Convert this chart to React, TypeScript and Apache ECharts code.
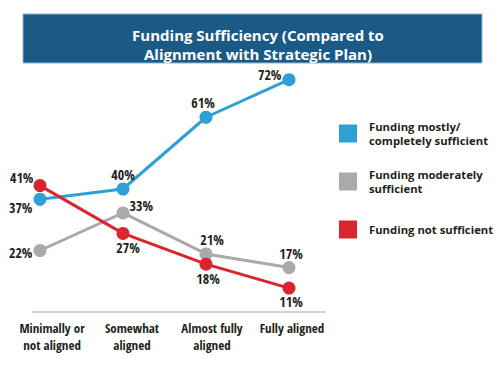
import React, { useEffect, useRef } from "react";
import * as echarts from "echarts";

const categories = ["Minimally or\nnot aligned", "Somewhat\naligned", "Almost fully\naligned", "Fully aligned"];
const seriesNames = ["Funding mostly/\ncompletely sufficient", "Funding moderately\nsufficient", "Funding not sufficient"];
const mostly = [37, 40, 61, 72];
const moderately = [22, 33, 21, 17];
const notSufficient = [41, 27, 18, 11];
const colors = ["#2fa0d5", "#aaaaaa", "#d9252d"];

const condensed = "'Open Sans Condensed', 'DejaVu Sans Condensed', sans-serif";
const labelFont = { fontFamily: condensed, fontSize: 14, fontWeight: "normal" as const, color: "#231f20" };

type LP = { position: string; distance?: number; offset?: number[] };
const mostlyLabels: LP[] = [
  { position: "left", distance: 1, offset: [0, 8] },
  { position: "top", distance: 1 },
  { position: "top", distance: 1, offset: [-3, 0] },
  { position: "left", distance: 1, offset: [0, -5] },
];
const moderatelyLabels: LP[] = [
  { position: "left", distance: 1, offset: [0, 2] },
  { position: "right", distance: 0, offset: [0, -7] },
  { position: "top", distance: 1, offset: [6, 0] },
  { position: "top", distance: 1, offset: [2, 0] },
];
const notLabels: LP[] = [
  { position: "left", distance: 0, offset: [0, -8] },
  { position: "bottom", distance: 1, offset: [5, 0] },
  { position: "bottom", distance: 1, offset: [2, 0] },
  { position: "bottom", distance: 0, offset: [2, 0] },
];

function mkData(vals: number[], lps: LP[]) {
  return vals.map((v, i) => ({
    value: v,
    label: { show: true, ...lps[i], formatter: "{c}%", ...labelFont },
  }));
}

export default function App() {
  const ref = useRef<HTMLDivElement>(null);
  useEffect(() => {
    if (!ref.current) return;
    const chart = echarts.init(ref.current, null, { renderer: "svg" });
    const legendText = {
      fontFamily: "'Open Sans', sans-serif",
      fontWeight: 700,
      fontSize: 11.3,
      lineHeight: 14,
      color: "#231f20",
      padding: [0, 0, 0, 7],
    };
    const mkLegend = (name: string, top: number) => ({
      data: [name],
      left: 339,
      top,
      orient: "vertical" as const,
      icon: "rect",
      itemWidth: 18,
      itemHeight: 18,
      padding: 0,
      selectedMode: false,
      textStyle: legendText,
    });
    chart.setOption({
      animation: false,
      backgroundColor: "#ffffff",
      title: {
        text: "Funding Sufficiency (Compared to\nAlignment with Strategic Plan)",
        left: 253,
        top: 21,
        textAlign: "center",
        textStyle: {
          color: "#ffffff",
          fontFamily: "'Open Sans', sans-serif",
          fontWeight: 700,
          fontSize: 15,
          lineHeight: 18.5,
        },
        z: 10,
      },
      graphic: [
        {
          type: "rect",
          shape: { x: 23, y: 14, width: 459, height: 49 },
          style: { fill: "#1b5a85", stroke: "#8db4d2", lineWidth: 1 },
          z: 1,
        },
        {
          type: "line",
          shape: { x1: 32, y1: 312, x2: 326, y2: 312 },
          style: { stroke: "#d6d4cd", lineWidth: 2 },
          z: 1,
        },
      ],
      legend: [
        mkLegend(seriesNames[0], 119.5),
        mkLegend(seriesNames[1], 167.5),
        mkLegend(seriesNames[2], 220.5),
      ],
      grid: [
        { left: 40, right: 214, top: 66, bottom: 56 },
        { left: 12, right: 171, top: 66, bottom: 56 },
      ],
      xAxis: [
        { type: "category", gridIndex: 0, data: categories, boundaryGap: false, show: false },
        {
          type: "category",
          gridIndex: 1,
          data: categories,
          boundaryGap: true,
          axisLine: { show: false },
          axisTick: { show: false },
          axisLabel: {
            margin: 7,
            fontFamily: condensed,
            fontSize: 13,
            fontWeight: "normal",
            lineHeight: 17,
            color: "#231f20",
            interval: 0,
          },
        },
      ],
      yAxis: [
        { type: "value", gridIndex: 0, min: 4, max: 76, show: false },
        { type: "value", gridIndex: 1, min: 0, max: 1, show: false },
      ],
      series: [
        {
          name: seriesNames[1],
          type: "line",
          data: mkData(moderately, moderatelyLabels),
          color: colors[1],
          symbol: "circle",
          symbolSize: 13,
          lineStyle: { width: 3, color: colors[1] },
          itemStyle: { color: colors[1] },
          z: 2,
        },
        {
          name: seriesNames[0],
          type: "line",
          data: mkData(mostly, mostlyLabels),
          color: colors[0],
          symbol: "circle",
          symbolSize: 13,
          lineStyle: { width: 3, color: colors[0] },
          itemStyle: { color: colors[0] },
          z: 3,
        },
        {
          name: seriesNames[2],
          type: "line",
          data: mkData(notSufficient, notLabels),
          color: colors[2],
          symbol: "circle",
          symbolSize: 13,
          lineStyle: { width: 3, color: colors[2] },
          itemStyle: { color: colors[2] },
          z: 4,
        },
      ],
    });
    return () => chart.dispose();
  }, []);
  return <div ref={ref} style={{ width: 503, height: 368, position: "absolute", left: 0, top: 0 }} />;
}
